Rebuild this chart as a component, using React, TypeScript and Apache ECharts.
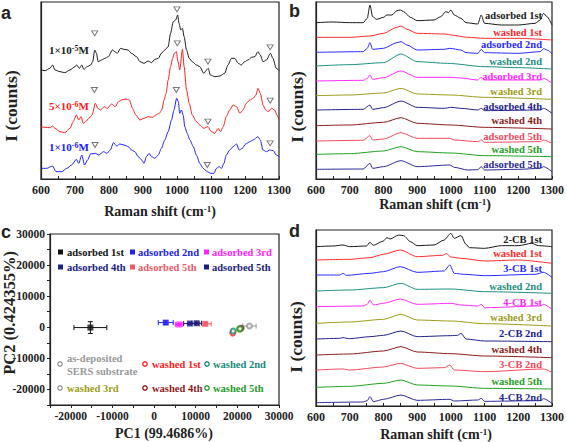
import { useEffect, useRef } from 'react';
import * as echarts from 'echarts';

const SERIF = '"Liberation Serif", "Times New Roman", serif';
const SANS = '"Liberation Sans", Arial, sans-serif';

// ---------- Panel a : concentration series (x: Raman shift, y: intensity a.u.) ----------
const aConc1e5: number[][] = [[600,327],[612,325],[626,332],[634,342],[641,327],[656,322],[670,319],[685,327],[700,337],[705,342],[713,332],[720,342],[726,329],[736,337],[746,342],[752,352],[758,387],[763,377],[768,352],[778,357],[788,362],[798,367],[810,387],[818,382],[824,377],[834,392],[844,389],[856,387],[866,377],[881,367],[891,352],[903,347],[915,354],[925,349],[935,359],[945,362],[954,377],[964,387],[974,397],[981,437],[989,472],[996,477],[1002,492],[1006,467],[1011,447],[1016,452],[1021,427],[1028,387],[1036,362],[1045,352],[1057,342],[1067,337],[1079,317],[1087,327],[1092,332],[1098,312],[1111,307],[1126,309],[1140,317],[1150,342],[1160,362],[1170,362],[1180,347],[1189,342],[1199,352],[1209,357],[1219,365],[1229,367],[1238,382],[1245,372],[1253,352],[1263,357],[1275,377],[1282,362],[1292,332],[1300,325]];
const aConc5e6: number[][] = [[600,157],[612,155],[626,154],[634,159],[641,152],[656,142],[670,139],[685,152],[695,172],[704,192],[711,177],[718,187],[724,167],[731,172],[741,182],[750,192],[760,227],[767,212],[775,207],[786,217],[795,212],[808,225],[818,217],[828,232],[837,237],[850,240],[860,237],[869,212],[879,192],[891,177],[903,182],[915,187],[928,185],[938,192],[948,197],[955,207],[962,237],[968,257],[974,297],[981,337],[987,362],[992,377],[998,382],[1003,352],[1008,327],[1016,389],[1021,337],[1028,267],[1036,227],[1045,192],[1057,172],[1067,162],[1079,152],[1091,157],[1101,142],[1111,137],[1121,152],[1128,142],[1136,157],[1145,187],[1155,207],[1165,222],[1175,217],[1185,197],[1194,207],[1204,227],[1214,237],[1224,242],[1232,252],[1238,272],[1245,257],[1253,222],[1261,207],[1268,202],[1278,212],[1287,207],[1294,192],[1300,179]];
const aConc1e6: number[][] = [[600,32],[617,32],[634,39],[644,22],[661,22],[676,32],[690,42],[704,59],[711,47],[720,72],[728,42],[737,57],[746,75],[760,77],[770,72],[784,82],[794,77],[804,87],[813,109],[823,99],[832,105],[844,102],[857,97],[866,87],[876,82],[886,67],[896,57],[903,47],[910,67],[918,77],[925,67],[935,62],[945,72],[954,92],[964,117],[974,142],[984,177],[991,207],[999,242],[1004,232],[1008,197],[1013,207],[1018,192],[1023,157],[1030,137],[1038,117],[1048,97],[1057,72],[1067,47],[1077,32],[1089,22],[1099,17],[1109,17],[1116,32],[1124,37],[1131,32],[1138,47],[1145,72],[1155,87],[1165,97],[1175,105],[1183,87],[1192,92],[1202,105],[1214,112],[1224,117],[1238,127],[1245,117],[1253,87],[1263,82],[1273,87],[1283,85],[1292,72],[1300,67]];
const aPeakMarks: number[][] = [[758,437],[1000,509],[1091,352],[1274,395],[757,267],[1001,407],[1091,172],[1274,235],[759,102],[998,267],[1089,42],[1274,107]];
const aLabels = ['1×10{s|-5}M', '5×10{s|-6}M', '1×10{s|-6}M'];

// ---------- Panel b : adsorption / washing cycles ----------
const bLabels = ['adsorbed 1st','washed 1st','adsorbed 2nd','washed 2nd','adsorbed 3rd','washed 3rd','adsorbed 4th','washed 4th','adsorbed 5th','washed 5th','adsorbed 5th'];
const bTraces: number[][][] = [
  [[600,469],[650,471],[700,469],[740,469],[752,482],[760,522],[768,487],[780,479],[800,485],[810,492],[825,492],[840,505],[850,507],[860,502],[880,485],[900,475],[950,477],[970,487],[985,502],[993,499],[1000,507],[1010,492],[1030,482],[1045,469],[1080,465],[1090,492],[1100,467],[1150,462],[1200,462],[1250,467],[1265,477],[1275,497],[1285,487],[1300,462]],
  [[600,425],[700,425],[760,429],[800,437],[840,455],[852,459],[870,449],[900,437],[985,435],[1000,432],[1050,425],[1100,422],[1200,422],[1300,417]],
  [[600,380],[740,382],[752,392],[760,409],[768,389],[800,392],[840,409],[852,412],[870,402],[900,387],[980,389],[997,392],[1030,387],[1045,379],[1080,377],[1090,389],[1100,379],[1200,377],[1265,382],[1275,391],[1290,385],[1300,375]],
  [[600,339],[700,343],[800,349],[852,375],[900,352],[990,347],[1100,337],[1200,334],[1300,330]],
  [[600,294],[740,296],[752,302],[760,312],[768,299],[800,304],[852,324],[900,305],[980,305],[1000,305],[1030,303],[1080,297],[1090,305],[1100,297],[1265,297],[1275,302],[1300,287]],
  [[600,250],[700,252],[800,258],[852,272],[900,255],[1000,252],[1100,245],[1300,239]],
  [[600,207],[740,209],[760,222],[768,209],[800,214],[852,234],[900,215],[980,212],[1000,215],[1030,212],[1080,207],[1090,212],[1100,205],[1265,207],[1275,212],[1300,197]],
  [[600,160],[700,162],[800,170],[852,184],[900,167],[1000,162],[1100,155],[1300,150]],
  [[600,114],[740,116],[760,130],[768,117],[800,120],[852,139],[900,122],[997,122],[1010,117],[1080,112],[1090,117],[1100,110],[1265,112],[1275,117],[1300,107]],
  [[600,74],[700,76],[800,84],[852,97],[900,82],[1000,78],[1100,70],[1300,67]],
  [[600,29],[740,30],[760,47],[768,32],[800,37],[852,55],[900,37],[997,42],[1010,35],[1050,27],[1080,28],[1090,37],[1100,27],[1200,29],[1265,32],[1275,37],[1300,22]],
];

// ---------- Panel c : PCA scores ----------
const cAdsNames = ['adsorbed 1st','adsorbed 2nd','adsorbed 3rd','adsorbed 4th','adsorbed 5th','adsorbed 5th'];
const cAdsPC1 = [-15300, 2800, 6000, 8600, 12300, 10200];
const cAdsPC2 = [-100, 1500, 900, 1200, 1100, 1300];
const cAdsErrPC1 = [3950, 1800, 900, 1500, 1400, 1200];
const cAdsErrPC2 = [1900, 600, 300, 300, 500, 300];
const cWashNames = ['as-deposited SERS substrate','washed 1st','washed 2nd','washed 3rd','washed 4th','washed 5th'];
const cWashPC1 = [22900, 18900, 19000, 20500, 20900, 20600];
const cWashPC2 = [400, -1800, -1200, -600, -300, -500];
const cWashErrPC1 = [1600, 0, 0, 0, 0, 0];
const cWashErrPC2 = [300, 0, 0, 0, 0, 0];

// ---------- Panel d : chlorobiphenyl cycles ----------
const dLabels = ['2-CB 1st','washed 1st','3-CB 1st','washed 2nd','4-CB 1st','washed 3rd','2-CB 2nd','washed 4th','3-CB 2nd','washed 5th','4-CB 2nd'];
const dTraces: number[][][] = [
  [[600,478],[650,480],[680,483],[700,478],[750,480],[760,491],[770,482],[800,495],[810,505],[820,501],[845,513],[860,511],[880,493],[900,481],[950,483],[980,498],[1000,518],[1010,503],[1030,511],[1045,485],[1055,475],[1100,473],[1150,481],[1200,481],[1240,488],[1260,481],[1300,478]],
  [[600,438],[700,440],[760,445],[800,455],[850,468],[900,448],[975,452],[987,457],[1000,447],[1030,443],[1100,435],[1200,438],[1300,428]],
  [[600,393],[670,393],[680,398],[690,392],[760,398],[800,403],[850,418],[900,401],[980,405],[997,423],[1010,398],[1040,395],[1100,391],[1250,395],[1275,401],[1300,386]],
  [[600,345],[700,348],[800,355],[852,368],[900,350],[1000,351],[1100,343],[1300,338]],
  [[600,298],[740,300],[752,305],[760,318],[770,303],[800,308],[850,321],[900,305],[1000,308],[1030,303],[1080,300],[1090,305],[1100,295],[1265,300],[1275,305],[1300,290]],
  [[600,248],[700,252],[800,260],[852,275],[900,258],[1000,255],[1100,247],[1300,240]],
  [[600,201],[670,203],[680,205],[700,202],[760,208],[800,212],[852,225],[900,208],[1000,211],[1020,212],[1030,218],[1045,201],[1100,195],[1300,193]],
  [[600,153],[700,156],[800,165],[852,178],[900,162],[1000,157],[1100,150],[1300,145]],
  [[600,108],[680,111],[700,108],[800,117],[850,128],[900,113],[980,115],[997,123],[1010,108],[1100,103],[1275,111],[1300,101]],
  [[600,56],[700,59],[800,68],[852,78],[900,63],[1000,60],[1100,53],[1300,51]],
  [[600,10],[740,12],[752,16],[760,28],[770,13],[800,20],[852,33],[900,17],[997,20],[1010,15],[1080,18],[1090,23],[1100,14],[1265,16],[1275,22],[1300,8]],
];

// ---------- styles ----------
const aColors = ['#1a1a1a', '#ff2020', '#2020ff'];
const cycleColors = ['#1a1a1a','#ff2a2a','#2a2aff','#1f8f80','#ff2aff','#9c9c1c','#22228e','#8b1c1c','#f04a5c','#22a022','#2a2a96'];
const cAdsColors = ['#111111','#2424e8','#ff22ff','#20208a','#f05a66','#1c1c7c'];
const cWashColors = ['#999999','#ff2020','#168a78','#9c9c1c','#8b1c1c','#1f9a2a'];
const cWashTextColors = ['#999999','#ff2020','#168a78','#9c9c1c','#8b1c1c','#1f9a2a'];
const cWashIconColors = ['#999999','#ff2020','#168a78','#999999','#8b1c1c','#1f9a2a'];

const grids = [
  { left: 41, top: 2, width: 238, height: 177 },
  { left: 316, top: 2, width: 238, height: 177 },
  { left: 50, top: 234, width: 229, height: 171 },
  { left: 316, top: 230, width: 238, height: 176 },
];

function ramanX(i: number) {
  return {
    type: 'value', gridIndex: i, min: 600, max: 1300, interval: 50,
    axisLine: { show: true, lineStyle: { color: '#222', width: 1.2 } },
    axisTick: { show: true, inside: true, length: 3, lineStyle: { color: '#222' } },
    axisLabel: {
      margin: 5, fontFamily: SERIF, fontWeight: 'bold', fontSize: 12, color: '#222',
      formatter: (v: number) => (v % 100 === 0 ? String(v) : ''),
    },
    splitLine: { show: false },
  };
}
function plainY(i: number, max: number) {
  return {
    type: 'value', gridIndex: i, min: 0, max,
    axisLine: { show: true, lineStyle: { color: '#222', width: 1.2 } },
    axisTick: { show: false }, axisLabel: { show: false }, splitLine: { show: false },
  };
}
function pcAxis(i: number) {
  return {
    type: 'value', gridIndex: i, min: -25000, max: 30000, interval: 5000,
    axisLine: { show: true, onZero: false, lineStyle: { color: '#222', width: 1.2 } },
    axisTick: { show: true, inside: false, length: 3, lineStyle: { color: '#222' } },
    axisLabel: {
      margin: 5, fontFamily: SERIF, fontWeight: 'bold', fontSize: 11.5, color: '#222',
      formatter: (v: number) => (v % 10000 === 0 ? String(v) : ''),
    },
    splitLine: { show: false },
  };
}
function line(data: number[][], color: string, gi: number) {
  return {
    type: 'line', data, xAxisIndex: gi, yAxisIndex: gi, symbol: 'none', showSymbol: false,
    smooth: 0.25, smoothMonotone: 'x', silent: true,
    lineStyle: { color, width: 1 }, itemStyle: { color },
  };
}
function txt(x: number, y: number, text: string, o: any = {}) {
  return {
    type: 'text', x, y, rotation: o.rotation || 0, silent: true,
    style: {
      text, fill: o.color || '#222', font: `bold ${o.size || 11}px ${o.family || SERIF}`,
      align: o.align || 'left', verticalAlign: 'middle', rich: o.rich,
    },
  };
}

export default function App() {
  const ref = useRef<HTMLDivElement>(null);
  useEffect(() => {
    document.body.style.margin = '0';
    const chart = echarts.init(ref.current!, undefined, { renderer: 'svg' });

    const series: any[] = [];
    [aConc1e5, aConc5e6, aConc1e6].forEach((d, k) => series.push(line(d, aColors[k], 0)));
    series.push({
      type: 'scatter', xAxisIndex: 0, yAxisIndex: 0, data: aPeakMarks, symbol: 'triangle',
      symbolRotate: 180, symbolSize: [6, 5], silent: true,
      itemStyle: { color: '#ffffff', borderColor: '#555', borderWidth: 1 }, z: 5,
    });
    bTraces.forEach((d, k) => series.push(line(d, cycleColors[k], 1)));
    dTraces.forEach((d, k) => series.push(line(d, cycleColors[k], 3)));

    const errData: number[][] = [];
    cAdsPC1.forEach((x, k) => errData.push([x, cAdsPC2[k], cAdsErrPC1[k], cAdsErrPC2[k], k]));
    cWashPC1.forEach((x, k) => errData.push([x, cWashPC2[k], cWashErrPC1[k], cWashErrPC2[k], 6 + k]));
    const errColors = [...cAdsColors, ...cWashColors];
    series.push({
      type: 'custom', xAxisIndex: 2, yAxisIndex: 2, data: errData, silent: true, z: 2,
      encode: { x: 0, y: 1 },
      renderItem: (_p: any, api: any) => {
        const x = api.value(0), y = api.value(1), ex = api.value(2), ey = api.value(3);
        const col = errColors[api.value(4)];
        const st = { stroke: col, lineWidth: 1 };
        const ch: any[] = [];
        if (ex > 0) {
          const l = api.coord([x - ex, y]), r = api.coord([x + ex, y]);
          ch.push({ type: 'line', shape: { x1: l[0], y1: l[1], x2: r[0], y2: r[1] }, style: st });
          ch.push({ type: 'line', shape: { x1: l[0], y1: l[1] - 2.5, x2: l[0], y2: l[1] + 2.5 }, style: st });
          ch.push({ type: 'line', shape: { x1: r[0], y1: r[1] - 2.5, x2: r[0], y2: r[1] + 2.5 }, style: st });
        }
        if (ey > 0) {
          const t = api.coord([x, y + ey]), b = api.coord([x, y - ey]);
          ch.push({ type: 'line', shape: { x1: t[0], y1: t[1], x2: b[0], y2: b[1] }, style: st });
          ch.push({ type: 'line', shape: { x1: t[0] - 2.5, y1: t[1], x2: t[0] + 2.5, y2: t[1] }, style: st });
          ch.push({ type: 'line', shape: { x1: b[0] - 2.5, y1: b[1], x2: b[0] + 2.5, y2: b[1] }, style: st });
        }
        return { type: 'group', children: ch };
      },
    });
    series.push({
      type: 'scatter', xAxisIndex: 2, yAxisIndex: 2, symbol: 'rect', symbolSize: 6, z: 4, silent: true,
      data: cAdsPC1.map((x, k) => ({ name: cAdsNames[k], value: [x, cAdsPC2[k]], itemStyle: { color: cAdsColors[k] } })),
    });
    series.push({
      type: 'scatter', xAxisIndex: 2, yAxisIndex: 2, symbol: 'emptyCircle', symbolSize: 5, z: 4, silent: true,
      data: cWashPC1.map((x, k) => ({ name: cWashNames[k], value: [x, cWashPC2[k]], itemStyle: { color: cWashColors[k], borderColor: cWashColors[k], borderWidth: 2 } })),
    });

    const sup = { s: { fontSize: 8, fontWeight: 'bold', fontFamily: SERIF, verticalAlign: 'top', lineHeight: 10 } };
    const graphics: any[] = [];
    // panel letters
    graphics.push(txt(1, 13, 'a', { family: SANS, size: 18 }));
    graphics.push(txt(289, 11, 'b', { family: SANS, size: 18 }));
    graphics.push(txt(1, 232, 'c', { family: SANS, size: 18 }));
    graphics.push(txt(289, 231, 'd', { family: SANS, size: 18 }));
    // axis names
    const ramanRich = { s: { fontSize: 9, fontWeight: 'bold', fontFamily: SERIF, verticalAlign: 'top', lineHeight: 12 } };
    graphics.push(txt(160, 211, 'Raman shift (cm{s|-1})', { size: 14, align: 'center', rich: ramanRich }));
    graphics.push(txt(435, 204, 'Raman shift (cm{s|-1})', { size: 14, align: 'center', rich: ramanRich }));
    graphics.push(txt(436, 434, 'Raman shift (cm{s|-1})', { size: 14, align: 'center', rich: ramanRich }));
    graphics.push(txt(11, 106, 'I (counts)', { size: 17.5, align: 'center', rotation: Math.PI / 2 }));
    graphics.push(txt(297, 107, 'I (counts)', { size: 17.5, align: 'center', rotation: Math.PI / 2 }));
    graphics.push(txt(296, 337, 'I (counts)', { size: 17.5, align: 'center', rotation: Math.PI / 2 }));
    graphics.push(txt(9, 313, 'PC2 (0.424355%)', { size: 16.5, align: 'center', rotation: Math.PI / 2 }));
    graphics.push(txt(164, 433, 'PC1 (99.4686%)', { size: 14, align: 'center' }));
    // panel a labels
    const aLabY = [50, 106, 147];
    aLabels.forEach((t, k) => graphics.push(txt(49, aLabY[k], t, { size: 11, color: aColors[k], rich: sup })));
    // panel b / d labels
    const bLabY = [15, 32, 44, 61, 76, 91, 106, 120, 136, 149, 164];
    bLabels.forEach((t, k) => graphics.push(txt(542, bLabY[k], t, { size: 10.5, align: 'right', color: cycleColors[k] })));
    const dLabY = [239, 253, 268, 286, 302, 317, 333, 349, 364, 381, 397];
    dLabels.forEach((t, k) => graphics.push(txt(542, dLabY[k], t, { size: 10.5, align: 'right', color: cycleColors[k] })));
    // panel c legend
    const colIconX = [58, 130, 204];
    const colTextX = [67, 138, 212];
    const rowY = [252, 267];
    cAdsNames.forEach((t, k) => {
      const col = k % 3, row = Math.floor(k / 3);
      graphics.push({ type: 'rect', silent: true, shape: { x: colIconX[col], y: rowY[row] - 2.5, width: 5, height: 5 }, style: { fill: cAdsColors[k] } });
      graphics.push(txt(colTextX[col], rowY[row], t, { size: 10.5, color: cAdsColors[k] }));
    });
    const wIconX = [60, 145, 207];
    const wTextX = [67, 152, 213];
    const wRowY = [364, 388];
    cWashNames.forEach((t, k) => {
      const col = k % 3, row = Math.floor(k / 3);
      graphics.push({ type: 'circle', silent: true, shape: { cx: wIconX[col], cy: wRowY[row], r: 2.2 }, style: { fill: '#fff', stroke: cWashIconColors[k], lineWidth: 1.3 } });
      if (k === 0) {
        graphics.push(txt(wTextX[col], 358, 'as-deposited', { size: 10.5, color: cWashTextColors[k] }));
        graphics.push(txt(wTextX[col], 371, 'SERS substrate', { size: 10.5, color: cWashTextColors[k] }));
      } else {
        graphics.push(txt(wTextX[col], wRowY[row], t, { size: 10.5, color: cWashTextColors[k] }));
      }
    });

    chart.setOption({
      animation: false,
      backgroundColor: '#ffffff',
      grid: grids.map((g) => ({ ...g, show: true, borderColor: '#222', borderWidth: 1.2, backgroundColor: 'transparent', containLabel: false })),
      xAxis: [ramanX(0), ramanX(1), pcAxis(2), ramanX(3)],
      yAxis: [plainY(0, 531), plainY(1, 531), pcAxis(2), plainY(3, 528)],
      series,
      graphic: graphics,
    });
    return () => chart.dispose();
  }, []);
  return <div ref={ref} style={{ width: 567, height: 442 }} />;
}
